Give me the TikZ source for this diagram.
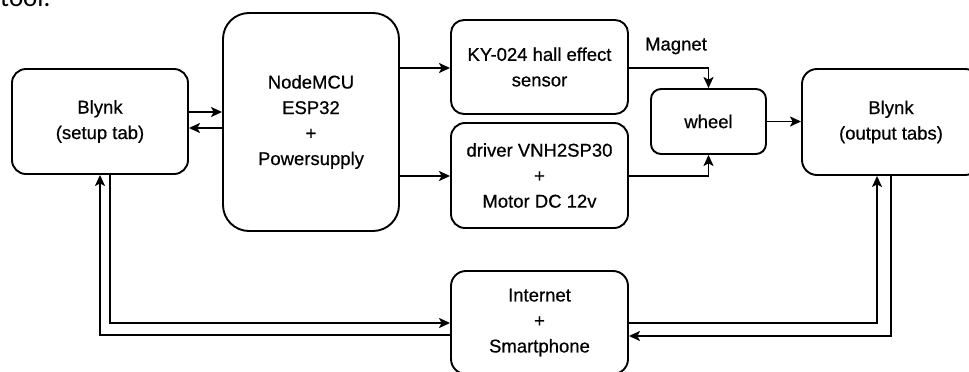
\documentclass[tikz,border=0pt]{standalone}
\usepackage{fontspec}
\setmainfont{Liberation Sans}[FakeBold=0.6]
\newfontfamily\mainsemi{Liberation Sans}[FakeBold=0.6]
\newfontfamily\carlfont{Carlito}
\usetikzlibrary{arrows.meta}
\begin{document}
\begin{tikzpicture}[x=1pt,y=-1pt,
  box/.style={draw, line width=1.9pt, inner sep=0pt, align=center,
    font=\mainsemi\fontsize{18.5}{25.5}\selectfont},
  conn/.style={line width=1.6pt, -{Stealth[length=11pt,width=10pt,inset=2.5pt]}},
  lbl/.style={inner sep=0pt, font=\mainsemi\fontsize{18.5}{25}\selectfont}]
\useasboundingbox (0,0) rectangle (969,372);
\clip (0,0) rectangle (969,372);
\node[inner sep=0pt, anchor=base west, font=\carlfont\fontsize{27}{30}\selectfont] (tooltext) at (0,6) {tool.};

\node[box, minimum width=176pt, minimum height=105pt, rounded corners=14pt] (setup) at (100,121.5) {Blynk\\(setup tab)};
\node[box, minimum width=176pt, minimum height=218pt, rounded corners=26pt] (mcu) at (311,122) {NodeMCU\\ESP32\\+\\Powersupply};
\node[box, minimum width=177pt, minimum height=94pt, rounded corners=13pt] (ky) at (539.5,67) {KY-024 hall effect\\sensor};
\node[box, minimum width=177pt, minimum height=105pt, rounded corners=14pt] (drv) at (539.5,175.5) {driver VNH2SP30\\+\\Motor DC 12v};
\node[box, minimum width=115pt, minimum height=65pt, rounded corners=10pt] (wheel) at (708.5,121.5) {wheel};
\node[box, minimum width=178pt, minimum height=106pt, rounded corners=15pt] (out) at (891,122) {Blynk\\(output tabs)};
\node[box, minimum width=177pt, minimum height=103pt, rounded corners=15pt] (net) at (539.5,322.5) {Internet\\+\\Smartphone};
\node[lbl] (magnet) at (676,46) {Magnet};

\draw[conn] (setup.east |- 0,112) -- (mcu.west |- 0,112);
\draw[conn] (mcu.west |- 0,128) -- (setup.east |- 0,128);
\draw[conn] (mcu.east |- 0,68) -- (ky.west |- 0,68);
\draw[conn] (mcu.east |- 0,176) -- (drv.west |- 0,176);
\draw[conn] (ky.east |- 0,68) -| (wheel.north);
\draw[conn] (drv.east |- 0,176) -| (wheel.south);
\draw[conn] (wheel.east) -- (wheel.east -| out.west);
\draw[conn] ([xshift=10pt]setup.south) |- (net.west |- 0,323);
\draw[conn] (net.west |- 0,335) -| (setup.south);
\draw[conn] (net.east |- 0,323) -| ([xshift=-14pt]out.south);
\draw[conn] (out.south) |- (net.east |- 0,336);
\end{tikzpicture}
\end{document}
